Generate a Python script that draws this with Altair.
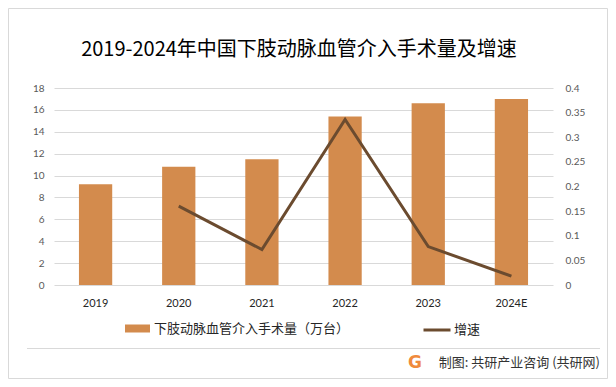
import altair as alt
import pandas as pd

# ---- data ----
years = ["2019", "2020", "2021", "2022", "2023", "2024E"]
volume = [9.2, 10.8, 11.5, 15.4, 16.6, 17.0]
growth_years = ["2020", "2021", "2022", "2023", "2024E"]
growth = [0.16, 0.072, 0.336, 0.078, 0.018]
left_ticks = [0, 2, 4, 6, 8, 10, 12, 14, 16, 18]
right_ticks = [0, 0.05, 0.1, 0.15, 0.2, 0.25, 0.3, 0.35, 0.4]

bar_name = "下肢动脉血管介入手术量（万台）"
line_name = "增速"
title_text = "2019-2024年中国下肢动脉血管介入手术量及增速"
footer_text = "制图: 共研产业咨询 (共研网)"

bars_df = pd.DataFrame({"year": years, "value": volume, "series": bar_name})
line_df = pd.DataFrame({"year": growth_years, "rate": growth, "series": line_name})
one = pd.DataFrame({"k": [0]})

W, H = 499, 197
CJK = "Noto Sans CJK SC"
NUM = "Lato, Noto Sans CJK SC"
BAR_C = "#D38B4D"
LINE_C = "#6B4B2F"

xenc = alt.X(
    "year:N",
    sort=years,
    scale=alt.Scale(domain=years, paddingInner=0.6, paddingOuter=0.3),
    axis=alt.Axis(title=None, labelAngle=0, ticks=False, tickSize=0, domain=False,
                  labelPadding=12, labelFontSize=11, labelFont=NUM, labelColor="#262626"),
)

bars = alt.Chart(bars_df).mark_bar(color=BAR_C).encode(
    x=xenc,
    y=alt.Y("value:Q", scale=alt.Scale(domain=[0, 18], nice=False),
            axis=alt.Axis(title=None, values=left_ticks, grid=True, gridColor="#d9d9d9",
                          domain=False, ticks=False, tickSize=0, labelPadding=10,
                          labelFontSize=10, labelFont=NUM, labelColor="#595959")),
    color=alt.Color("series:N", scale=alt.Scale(domain=[bar_name], range=[BAR_C]),
                    legend=alt.Legend(title=None, orient="none", legendX=71, legendY=228,
                                      symbolType="M-1,-0.32L1,-0.32L1,0.32L-1,0.32Z",
                                      symbolSize=625, symbolStrokeWidth=0, padding=0,
                                      labelFont=CJK, labelFontSize=13, labelColor="#262626",
                                      labelOffset=4, labelLimit=400)),
)

line = alt.Chart(line_df).mark_line(strokeWidth=3).encode(
    x=alt.X("year:N", sort=years, scale=alt.Scale(domain=years)),
    y=alt.Y("rate:Q", scale=alt.Scale(domain=[0, 0.4], nice=False),
            axis=alt.Axis(title=None, orient="right", values=right_ticks, format="~g",
                          grid=False, domain=False, ticks=False, tickSize=0, labelPadding=12,
                          labelFontSize=10, labelFont=NUM, labelColor="#595959")),
    stroke=alt.Stroke("series:N", scale=alt.Scale(domain=[line_name], range=[LINE_C]),
                      legend=alt.Legend(title=None, orient="none", legendX=368, legendY=227,
                                        symbolType="stroke", symbolSize=729,
                                        symbolStrokeWidth=3, padding=0,
                                        labelFont=CJK, labelFontSize=13, labelColor="#262626",
                                        labelOffset=2, labelLimit=200)),
)

title = alt.Chart(one).mark_text(
    text=title_text, font=CJK, fontSize=20, color="#000000", align="center", baseline="middle"
).encode(x=alt.value(245), y=alt.value(-38))

border = alt.Chart(one).mark_rect(fill=None, stroke="#d9d9d9", strokeWidth=1).encode(
    x=alt.value(-45.5), x2=alt.value(553.5), y=alt.value(-79.5), y2=alt.value(290.5)
)

sep = alt.Chart(one).mark_rule(color="#d9d9d9", strokeWidth=1).encode(
    x=alt.value(-27), x2=alt.value(546), y=alt.value(260.5)
)

footer = alt.Chart(one).mark_text(
    text=footer_text, font=CJK, fontSize=13, color="#333333", align="right", baseline="middle"
).encode(x=alt.value(546), y=alt.value(275))

logo = alt.Chart(one).mark_text(
    text="G", font="DejaVu Sans", fontWeight="bold", fontSize=17, color="#F08A3C",
    align="center", baseline="middle"
).encode(x=alt.value(361), y=alt.value(275))

chart = alt.layer(border, bars, line, title, sep, footer, logo).resolve_scale(
    y="independent"
).properties(
    width=W, height=H,
    autosize=alt.AutoSizeParams(type="none"),
    padding={"left": 46, "top": 80, "right": 55, "bottom": 94},
).configure_view(stroke=None)

chart.save("out.html", embed_options={"renderer": "svg", "actions": False})
